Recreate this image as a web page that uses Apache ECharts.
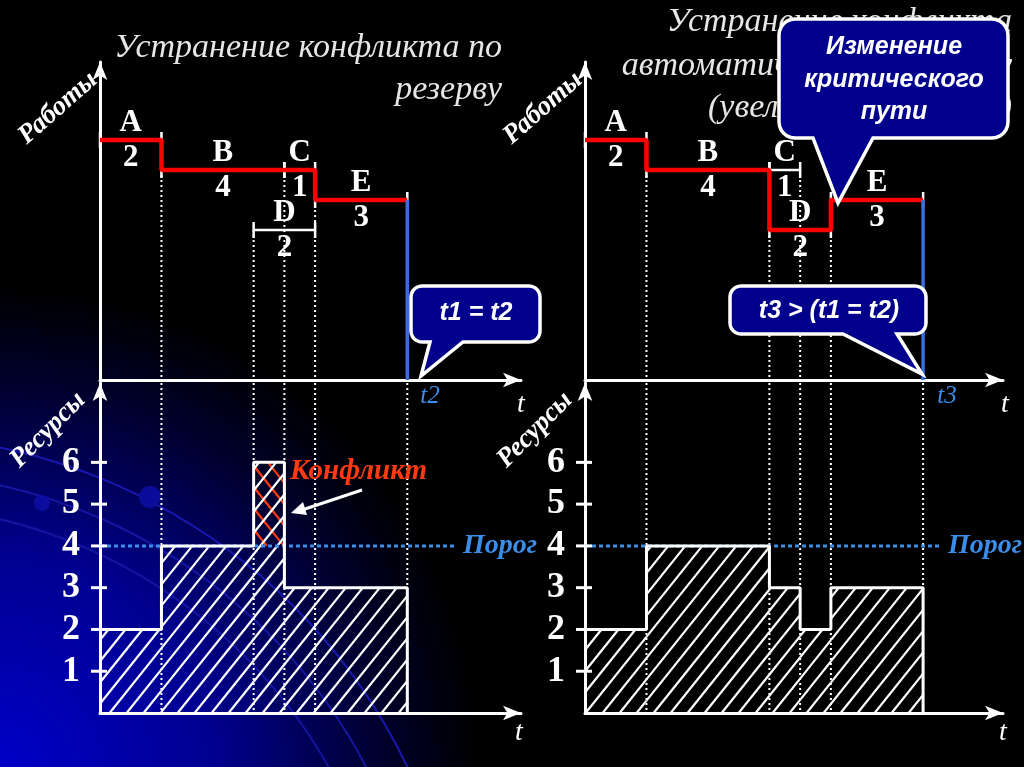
<!DOCTYPE html>
<html>
<head>
<meta charset="utf-8">
<script src="https://cdn.jsdelivr.net/npm/echarts@6/dist/echarts.min.js"></script>
<style>
  html, body { margin: 0; padding: 0; background: #000; }
  #main { width: 1024px; height: 767px; }
</style>
</head>
<body>
<div id="main"></div>
<script>
// работы: имя, длительность, уровень на графике
var names = ['A', 'B', 'C', 'D', 'E'];
var durations = [2, 4, 1, 2, 3];
var levels = [8, 7, 7, 5, 6];
// начала работ: по резерву (слева) и автоматически (справа)
var startLeft = [0, 2, 6, 5, 7];
var startRight = [0, 2, 6, 6, 8];
// критический путь
var criticalLeft = [[0, 8], [2, 8], [2, 7], [7, 7], [7, 6], [10, 6]];
var criticalRight = [[0, 8], [2, 8], [2, 7], [6, 7], [6, 5], [8, 5], [8, 6], [11, 6]];
// профиль ресурсов
var resTimesLeft = [0, 2, 5, 6, 10];
var resLeft = [2, 4, 6, 3];
var resTimesRight = [0, 2, 6, 7, 8, 11];
var resRight = [2, 4, 3, 2, 3];
var threshold = 4;
var resTicks = [1, 2, 3, 4, 5, 6];

var SERIF = '"Liberation Serif", "Times New Roman", serif';
var SANS = '"Liberation Sans", Arial, sans-serif';
var TOP_MAX = 10.6, BOT_MAX = 7.9;
var THR_END = 11.55;
var HATCH = 17, SLOPE = 0.8;

var chart = echarts.init(document.getElementById('main'));

//штриховка прямоугольника
function hatchLines(x0, x1, yT, yB, dir, color) {
  var out = [], cMin, cMax;
  if (dir > 0) { cMin = x0 + SLOPE * yT; cMax = x1 + SLOPE * yB; }
  else { cMin = x0 - SLOPE * yB; cMax = x1 - SLOPE * yT; }
  for (var c = Math.ceil(cMin / HATCH) * HATCH; c <= cMax; c += HATCH) {
    var ya, yb;
    if (dir > 0) { ya = Math.max(yT, (c - x1) / SLOPE); yb = Math.min(yB, (c - x0) / SLOPE); }
    else { ya = Math.max(yT, (x0 - c) / SLOPE); yb = Math.min(yB, (x1 - c) / SLOPE); }
    if (yb - ya < 0.5) continue;
    out.push({
      type: 'line',
      shape: { x1: c - dir * SLOPE * ya, y1: ya, x2: c - dir * SLOPE * yb, y2: yb },
      style: { stroke: color, lineWidth: 2.2 }
    });
  }
  return out;
}

function renderHatch(params, api) {
  var v = api.value(2);
  var a = api.coord([api.value(0), v]);
  var b = api.coord([api.value(1), 0]);
  var kids = hatchLines(a[0], b[0], a[1], b[1], 1, '#ffffff');
  if (v > threshold) {
    var th = api.coord([api.value(0), threshold])[1];
    kids = hatchLines(a[0], b[0], a[1], th, -1, '#ff3a10').concat(kids);
  }
  return { type: 'group', children: kids };
}

function renderDotted(params, api) {
  var a = api.coord([api.value(0), api.value(1)]);
  var b = api.coord([api.value(0), 0]);
  return {
    type: 'line',
    shape: { x1: a[0], y1: a[1], x2: b[0], y2: b[1] },
    style: { stroke: '#ffffff', lineWidth: 2, lineDash: [2, 3] }
  };
}

function renderBracket(params, api) {
  var a = api.coord([api.value(0), api.value(2)]);
  var b = api.coord([api.value(1), api.value(2)]);
  var st = { stroke: '#ffffff', lineWidth: 2.5 };
  return {
    type: 'group',
    children: [
      { type: 'line', shape: { x1: a[0], y1: a[1], x2: b[0], y2: b[1] }, style: st },
      { type: 'line', shape: { x1: a[0], y1: a[1] - 8, x2: a[0], y2: a[1] + 8 }, style: st },
      { type: 'line', shape: { x1: b[0], y1: b[1] - 8, x2: b[0], y2: b[1] + 8 }, style: st }
    ]
  };
}

//риски, пересекающие ось ресурсов
function renderTick(params, api) {
  var p = api.coord([0, api.value(0)]);
  return {
    type: 'line',
    shape: { x1: p[0] - 9, y1: p[1], x2: p[0] + 7, y2: p[1] },
    style: { stroke: '#ffffff', lineWidth: 3 }
  };
}

function txt(text, font, fill) {
  return { text: text, font: font, fill: fill, align: 'center', verticalAlign: 'middle',
           textAlign: 'center', textVerticalAlign: 'middle' };
}

function renderLabel(params, api) {
  var i = api.value(3);
  var p = api.coord([(api.value(0) + api.value(1)) / 2, api.value(2)]);
  var f = 'bold 31px ' + SERIF;
  return {
    type: 'group',
    children: [
      { type: 'text', x: p[0], y: p[1] - 17, style: txt(names[i], f, '#ffffff') },
      { type: 'text', x: p[0], y: p[1] + 18, style: txt(String(durations[i]), f, '#ffffff') }
    ]
  };
}

function panelSeries(starts, critical, resTimes, res, gt, gb) {
  var acts = names.map(function (n, i) { return [starts[i], starts[i] + durations[i], levels[i], i]; });
  var finish = Math.max.apply(null, acts.map(function (a) { return a[1]; }));
  var finishLevel = 0;
  acts.forEach(function (a) { if (a[1] === finish) finishLevel = a[2]; });
  var bmap = {};
  acts.forEach(function (a) {
    [a[0], a[1]].forEach(function (t) {
      if (t > 0 && t < finish) bmap[t] = Math.max(bmap[t] || 0, a[2]);
    });
  });
  var bounds = Object.keys(bmap).map(function (t) { return [+t, bmap[t]]; });
  var fullBounds = bounds.map(function (b) { return [b[0], BOT_MAX]; }).concat([[finish, BOT_MAX]]);
  var segs = [], outline = [];
  for (var i = 0; i < res.length; i++) {
    segs.push([resTimes[i], resTimes[i + 1], res[i]]);
    outline.push([resTimes[i], res[i]], [resTimes[i + 1], res[i]]);
  }
  outline.push([resTimes[resTimes.length - 1], 0]);

  return [
    { type: 'custom', xAxisIndex: gt, yAxisIndex: gt, data: bounds, renderItem: renderDotted, z: 1, silent: true },
    { type: 'custom', xAxisIndex: gt, yAxisIndex: gt, data: acts, renderItem: renderBracket, z: 3, silent: true },
    { type: 'line', xAxisIndex: gt, yAxisIndex: gt, data: critical, symbol: 'none', z: 4,
      lineStyle: { color: '#ff0000', width: 4.5 } },
    { type: 'line', xAxisIndex: gt, yAxisIndex: gt, data: [[finish, finishLevel], [finish, 0]], symbol: 'none', z: 4,
      lineStyle: { color: '#3a6ee0', width: 3.5 } },
    { type: 'custom', xAxisIndex: gt, yAxisIndex: gt, data: acts, renderItem: renderLabel, z: 5, silent: true },
    { type: 'custom', xAxisIndex: gb, yAxisIndex: gb, data: fullBounds, renderItem: renderDotted, z: 1, silent: true },
    { type: 'custom', xAxisIndex: gb, yAxisIndex: gb, data: segs, renderItem: renderHatch, z: 2, silent: true },
    { type: 'custom', xAxisIndex: gb, yAxisIndex: gb, data: resTicks.map(function (v) { return [v]; }),
      renderItem: renderTick, z: 5, silent: true },
    { type: 'line', xAxisIndex: gb, yAxisIndex: gb, data: outline, symbol: 'none', z: 4,
      lineStyle: { color: '#ffffff', width: 3 } },
    { type: 'line', xAxisIndex: gb, yAxisIndex: gb, data: [[0, threshold], [THR_END, threshold]], symbol: 'none', z: 3,
      lineStyle: { color: '#3a8ee8', width: 3, type: [4, 3] },
      endLabel: { show: true, formatter: 'Порог', color: '#3a8ee8', fontFamily: SERIF,
                  fontStyle: 'italic', fontWeight: 'bold', fontSize: 28, distance: 8 } }
  ];
}

function xAx(grid, max) {
  return {
    type: 'value', gridIndex: grid, min: 0, max: max,
    axisLine: { show: true, onZero: false, symbol: ['none', 'arrow'], symbolSize: [11, 18],
                lineStyle: { color: '#ffffff', width: 3 } },
    axisTick: { show: false }, axisLabel: { show: false }, splitLine: { show: false }
  };
}

function yTop(grid) {
  return xAx(grid, TOP_MAX);
}

function yBottom(grid) {
  var ax = xAx(grid, BOT_MAX);
  ax.axisLabel = { show: true, customValues: resTicks, color: '#ffffff', fontFamily: SERIF,
                   fontWeight: 'bold', fontSize: 36, margin: 20 };
  return ax;
}

//выноска со скруглёнными углами
function callout(x, y, w, h, r, b1, b2, tip) {
  var pts = [];
  function arc(cx, cy, a0, a1) {
    for (var k = 0; k <= 6; k++) {
      var a = a0 + (a1 - a0) * k / 6;
      pts.push([cx + r * Math.cos(a), cy + r * Math.sin(a)]);
    }
  }
  arc(x + r, y + r, Math.PI, 1.5 * Math.PI);
  arc(x + w - r, y + r, 1.5 * Math.PI, 2 * Math.PI);
  arc(x + w - r, y + h - r, 0, 0.5 * Math.PI);
  pts.push([b2, y + h], tip, [b1, y + h]);
  arc(x + r, y + h - r, 0.5 * Math.PI, Math.PI);
  return {
    type: 'polygon', z: 100, shape: { points: pts },
    style: { fill: '#00008c', stroke: '#ffffff', lineWidth: 3.5 }
  };
}

function gtext(x, y, text, font, fill, align, rot, z) {
  return {
    type: 'text', x: x, y: y, rotation: rot || 0, z: z || 101,
    style: { text: text, font: font, fill: fill, align: align || 'center', verticalAlign: 'middle',
             textAlign: align || 'center', textVerticalAlign: 'middle' }
  };
}

var titleFont = 'italic 34px ' + SERIF;
var axFont = 'bold italic 27px ' + SERIF;
var tFont = 'italic 28px ' + SERIF;
var blueT = 'italic 25px ' + SERIF;
var callFont = 'bold italic 25px ' + SANS;

var graphics = [
  { type: 'rect', z: -10, silent: true, shape: { x: 0, y: 0, width: 1024, height: 767 },
    style: { fill: new echarts.graphic.RadialGradient(0, 767, 480, [
      { offset: 0, color: '#0000c8' }, { offset: 0.45, color: '#00008e' },
      { offset: 0.8, color: '#00002c' }, { offset: 1, color: '#000000' }], true) } },
  { type: 'arc', z: -9, silent: true, shape: { cx: -120, cy: 1020, r: 585, startAngle: -1.4, endAngle: -0.25, clockwise: true },
    style: { stroke: '#1818b0', lineWidth: 2, fill: null } },
  { type: 'arc', z: -9, silent: true, shape: { cx: -120, cy: 1020, r: 548, startAngle: -1.45, endAngle: -0.25, clockwise: true },
    style: { stroke: '#1616a0', lineWidth: 2, fill: null } },
  { type: 'arc', z: -9, silent: true, shape: { cx: -120, cy: 1020, r: 515, startAngle: -1.45, endAngle: -0.25, clockwise: true },
    style: { stroke: '#1414a0', lineWidth: 2, fill: null } },
  { type: 'circle', z: -9, silent: true, shape: { cx: 150, cy: 497, r: 11 }, style: { fill: '#0c0c9a' } },
  { type: 'circle', z: -9, silent: true, shape: { cx: 42, cy: 503, r: 8 }, style: { fill: '#0c0ca0' } },

  gtext(502, 48, 'Устранение конфликта по', titleFont, '#e6e6e6', 'right', 0, 50),
  gtext(502, 90, 'резерву', titleFont, '#e6e6e6', 'right', 0, 50),
  gtext(1012, 22, 'Устранение конфликта', titleFont, '#e6e6e6', 'right', 0, 50),
  gtext(1012, 66, 'автоматически по ресурсу', titleFont, '#e6e6e6', 'right', 0, 50),
  gtext(1012, 108, '(увеличение времени)', titleFont, '#e6e6e6', 'right', 0, 50),

  gtext(58, 108, 'Работы', axFont, '#ffffff', 'center', 0.72),
  gtext(543, 108, 'Работы', axFont, '#ffffff', 'center', 0.72),
  gtext(48, 430, 'Ресурсы', axFont, '#ffffff', 'center', 0.79),
  gtext(535, 430, 'Ресурсы', axFont, '#ffffff', 'center', 0.79),

  gtext(521, 405, 't', tFont, '#ffffff'),
  gtext(519, 733, 't', tFont, '#ffffff'),
  gtext(1005, 405, 't', tFont, '#ffffff'),
  gtext(1003, 733, 't', tFont, '#ffffff'),
  gtext(430, 396, 't2', blueT, '#3a8ee8'),
  gtext(947, 396, 't3', blueT, '#3a8ee8'),

  gtext(290, 472, 'Конфликт', 'bold italic 29px ' + SERIF, '#ff3a10', 'left'),
  { type: 'line', z: 101, shape: { x1: 362, y1: 490, x2: 302, y2: 510 }, style: { stroke: '#ffffff', lineWidth: 3 } },
  { type: 'polygon', z: 101, shape: { points: [[291, 513], [307, 515], [303, 502]] }, style: { fill: '#ffffff' } },

  callout(411, 286, 129, 56, 11, 430, 463, [421, 376]),
  gtext(476, 313, 't1 = t2', 'bold italic 25px ' + SANS, '#ffffff'),
  callout(730, 286, 196, 48, 11, 843, 897, [922, 374]),
  gtext(829, 311, 't3 > (t1 = t2)', 'bold italic 25px ' + SANS, '#ffffff'),
  callout(779, 19, 229, 119, 16, 813, 873, [838, 203]),
  gtext(894, 47, 'Изменение', callFont, '#ffffff'),
  gtext(894, 80, 'критического', callFont, '#ffffff'),
  gtext(894, 112, 'пути', callFont, '#ffffff')
];

var option = {
  backgroundColor: '#000000',
  animation: false,
  grid: [
    { left: 100, top: 62, width: 421, height: 318 },
    { left: 100, top: 383, width: 421, height: 330 },
    { left: 585, top: 62, width: 418, height: 318 },
    { left: 585, top: 383, width: 418, height: 330 }
  ],
  xAxis: [xAx(0, 13.7), xAx(1, 13.7), xAx(2, 13.6), xAx(3, 13.6)],
  yAxis: [yTop(0), yBottom(1), yTop(2), yBottom(3)],
  graphic: graphics,
  series: panelSeries(startLeft, criticalLeft, resTimesLeft, resLeft, 0, 1)
    .concat(panelSeries(startRight, criticalRight, resTimesRight, resRight, 2, 3))
};

chart.setOption(option);
</script>
</body>
</html>
